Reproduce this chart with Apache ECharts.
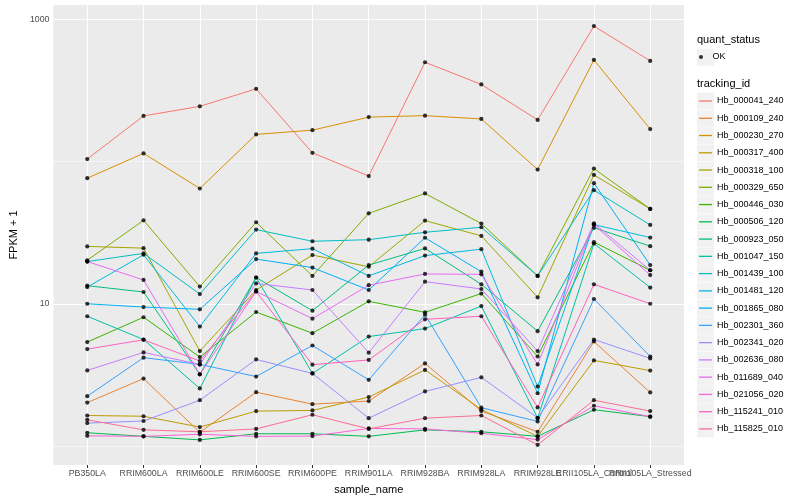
<!DOCTYPE html>
<html><head><meta charset="utf-8">
<script src="https://cdn.jsdelivr.net/npm/echarts@6/dist/echarts.min.js"></script>
<style>html,body{margin:0;padding:0;background:#fff}#c{width:800px;height:500px}</style>
</head><body><div id="c"></div><script>
const categories = ['PB350LA','RRIM600LA','RRIM600LE','RRIM600SE','RRIM600PE','RRIM901LA','RRIM928BA','RRIM928LA','RRIM928LE','RRII105LA_Control','RRII105LA_Stressed'];
const trackingIds = ['Hb_000041_240','Hb_000109_240','Hb_000230_270','Hb_000317_400','Hb_000318_100','Hb_000329_650','Hb_000446_030','Hb_000506_120','Hb_000923_050','Hb_001047_150','Hb_001439_100','Hb_001481_120','Hb_001865_080','Hb_002301_360','Hb_002341_020','Hb_002636_080','Hb_011689_040','Hb_021056_020','Hb_115241_010','Hb_115825_010'];
const colors = ['#F8766D','#EA8331','#D89000','#C09B00','#A3A500','#7CAE00','#39B600','#00BB4E','#00BF7D','#00C1A3','#00BFC4','#00BAE0','#00B0F6','#35A2FF','#9590FF','#C77CFF','#E76BF3','#FA62DB','#FF62BC','#FF6C91'];

const Hb_000041_240 = [104, 209, 244, 324, 115, 79, 498, 348, 196, 894, 509];
const Hb_000109_240 = [2.02, 2.98, 1.25, 2.39, 1.97, 2.07, 3.81, 1.76, 1.26, 5.43, 2.38];
const Hb_000230_270 = [76.3, 114, 64.6, 155, 166, 205, 210, 199, 87.7, 517, 169];
const Hb_000317_400 = [1.64, 1.62, 1.36, 1.76, 1.78, 2.21, 3.43, 1.81, 1.17, 4.00, 3.39];
const Hb_000318_100 = [25.3, 24.6, 4.65, 12.5, 22.0, 18.2, 38.4, 30.0, 11.1, 80.5, 46.4];
const Hb_000329_650 = [20.2, 38.6, 13.2, 37.4, 15.7, 43.2, 59.6, 36.6, 15.7, 89.1, 46.4];
const Hb_000446_030 = [5.38, 8.04, 4.22, 8.75, 6.21, 10.4, 8.71, 11.8, 4.26, 27.1, 17.2];
const Hb_000506_120 = [1.24, 1.17, 1.105, 1.22, 1.22, 1.17, 1.30, 1.26, 1.17, 1.80, 1.61];
const Hb_000923_050 = [13.4, 12.1, 3.19, 15.3, 8.94, 18.7, 24.5, 13.7, 6.42, 34.2, 25.4];
const Hb_001047_150 = [8.17, 5.61, 2.54, 15.3, 3.24, 5.88, 6.69, 9.64, 1.57, 26.5, 13.0];
const Hb_001439_100 = [19.8, 22.6, 11.7, 33.2, 27.5, 28.2, 31.8, 34.5, 15.7, 62.9, 35.8];
const Hb_001481_120 = [13.1, 22.1, 6.91, 22.6, 24.4, 15.7, 21.8, 24.2, 2.62, 36.0, 29.2];
const Hb_001865_080 = [10.0, 9.48, 9.14, 20.6, 17.96, 12.5, 29.1, 16.8, 2.35, 70.4, 18.7];
const Hb_002301_360 = [2.24, 4.18, 3.75, 3.08, 5.09, 2.92, 8.38, 1.86, 1.49, 10.8, 4.26];
const Hb_002341_020 = [1.45, 1.50, 2.10, 4.06, 3.24, 1.57, 2.42, 3.04, 1.58, 5.61, 4.13];
const Hb_002636_080 = [3.40, 4.55, 3.75, 13.9, 12.5, 4.53, 14.3, 12.7, 4.65, 36.8, 17.2];
const Hb_011689_040 = [19.8, 14.7, 3.19, 12.2, 7.86, 13.5, 16.2, 16.1, 3.75, 36.0, 15.9];
const Hb_021056_020 = [1.18, 1.17, 1.21, 1.17, 1.175, 1.33, 1.32, 1.23, 1.11, 1.92, 1.61];
const Hb_115241_010 = [4.80, 5.58, 3.96, 12.2, 3.73, 4.03, 7.78, 8.17, 1.87, 13.7, 10.0];
const Hb_115825_010 = [1.53, 1.30, 1.26, 1.32, 1.66, 1.32, 1.57, 1.64, 1.02, 2.10, 1.76];

const seriesValues = [Hb_000041_240, Hb_000109_240, Hb_000230_270, Hb_000317_400, Hb_000318_100, Hb_000329_650, Hb_000446_030, Hb_000506_120, Hb_000923_050, Hb_001047_150, Hb_001439_100, Hb_001481_120, Hb_001865_080, Hb_002301_360, Hb_002341_020, Hb_002636_080, Hb_011689_040, Hb_021056_020, Hb_115241_010, Hb_115825_010];

const yTickLabels = [10, 1000];
const yMinorLines = [1, 100];
const xIdx = categories.map((c, i) => i);
const xIdxA = xIdx.filter(i => i % 2 === 0);
const xIdxB = xIdx.filter(i => i % 2 === 1);

const chart = echarts.init(document.getElementById('c'), null, {renderer: 'canvas'});

const lineSeries = trackingIds.map((id, k) => ({
  name: id, type: 'line', z: 2,
  data: seriesValues[k].map((v, i) => [i, v]),
  showSymbol: false, symbol: 'none',
  color: colors[k],
  lineStyle: {width: 1, color: colors[k]},
  itemStyle: {color: colors[k]},
  emphasis: {disabled: true}, animation: false, silent: true
}));

const pts = [];
seriesValues.forEach(arr => arr.forEach((v, i) => pts.push([i, v])));

const gridLines = []
  .concat(xIdx.map(i => ({xAxis: i, lineStyle: {width: 1.1}})))
  .concat(yTickLabels.map(v => ({yAxis: v, lineStyle: {width: 1.1}})))
  .concat(yMinorLines.map(v => ({yAxis: v, lineStyle: {width: 0.55}})));

const legendRows = 20, rowH = 17.26, legTop = 92.5;
const graphics = [
  {type: 'text', left: 697, top: 34.5, style: {text: 'quant_status', fontSize: 11, fontFamily: 'Liberation Sans', fill: '#000'}},
  {type: 'text', left: 697, top: 78, style: {text: 'tracking_id', fontSize: 11, fontFamily: 'Liberation Sans', fill: '#000'}},
  {type: 'rect', shape: {x: 697, y: 48.8, width: 17, height: 16.8}, style: {fill: '#F2F2F2'}, z: -1}
];
for (let i = 0; i < legendRows; i++) {
  graphics.push({type: 'rect', shape: {x: 697, y: legTop + rowH * i + 0.2, width: 17, height: rowH - 0.5}, style: {fill: '#F2F2F2'}, z: -1});
}

const xLabelStyle = {formatter: v => categories[v] || '', fontSize: 8.8, color: '#4D4D4D', margin: 4,
  fontFamily: 'Liberation Sans', hideOverlap: false, interval: 0};

chart.setOption({
  animation: false,
  textStyle: {fontFamily: 'Liberation Sans'},
  grid: {left: 47, right: 116, top: 5, bottom: 32, show: true, backgroundColor: '#EBEBEB', borderWidth: 0, containLabel: false},
  xAxis: [{
    type: 'value', min: -0.6, max: 10.6, position: 'bottom',
    axisLine: {show: false},
    axisTick: {show: true, length: 3, customValues: xIdx, lineStyle: {color: '#333333', width: 1}},
    axisLabel: Object.assign({customValues: xIdxA}, xLabelStyle),
    splitLine: {show: false},
    name: 'sample_name', nameLocation: 'middle', nameGap: 19,
    nameTextStyle: {fontSize: 11, color: '#000', fontFamily: 'Liberation Sans'}
  }, {
    type: 'value', min: -0.6, max: 10.6, position: 'bottom', offset: 0,
    axisLine: {show: false}, axisTick: {show: false},
    axisLabel: Object.assign({customValues: xIdxB}, xLabelStyle),
    splitLine: {show: false}
  }],
  yAxis: {
    type: 'log', logBase: 10, min: 0.736, max: 1258,
    axisLine: {show: false},
    axisTick: {show: true, length: 3, customValues: yTickLabels, lineStyle: {color: '#333333', width: 1}},
    axisLabel: {customValues: yTickLabels, formatter: v => (yTickLabels.indexOf(Math.round(v)) >= 0 ? String(Math.round(v)) : ''), fontSize: 8.8, color: '#4D4D4D', margin: 4, fontFamily: 'Liberation Sans'},
    splitLine: {show: false},
    minorSplitLine: {show: false},
    name: 'FPKM + 1', nameLocation: 'middle', nameGap: 31, nameRotate: 90,
    nameTextStyle: {fontSize: 11, color: '#000', fontFamily: 'Liberation Sans'}
  },
  legend: [
    {data: ['OK'], orient: 'vertical', left: 699, top: 48.5, padding: 0, icon: 'circle', itemWidth: 13, itemHeight: 4,
     selectedMode: false, textStyle: {fontSize: 9, lineHeight: 17, color: '#000', fontFamily: 'Liberation Sans'}},
    {data: trackingIds, orient: 'vertical', left: 699, top: legTop, padding: 0, icon: 'rect', itemWidth: 13, itemHeight: 1.3, itemGap: 0.26,
     selectedMode: false, textStyle: {fontSize: 9, lineHeight: 17, color: '#000', fontFamily: 'Liberation Sans'}}
  ],
  graphic: graphics,
  series: lineSeries.concat([{
    name: 'OK', type: 'scatter', z: 3, data: pts, symbol: 'circle', symbolSize: 4.2,
    itemStyle: {color: '#000'}, silent: true, emphasis: {disabled: true},
    markLine: {silent: true, symbol: 'none', z: 1, label: {show: false}, animation: false,
      lineStyle: {color: '#FFFFFF', type: 'solid', width: 1}, emphasis: {disabled: true}, data: gridLines}
  }])
});
</script></body></html>
